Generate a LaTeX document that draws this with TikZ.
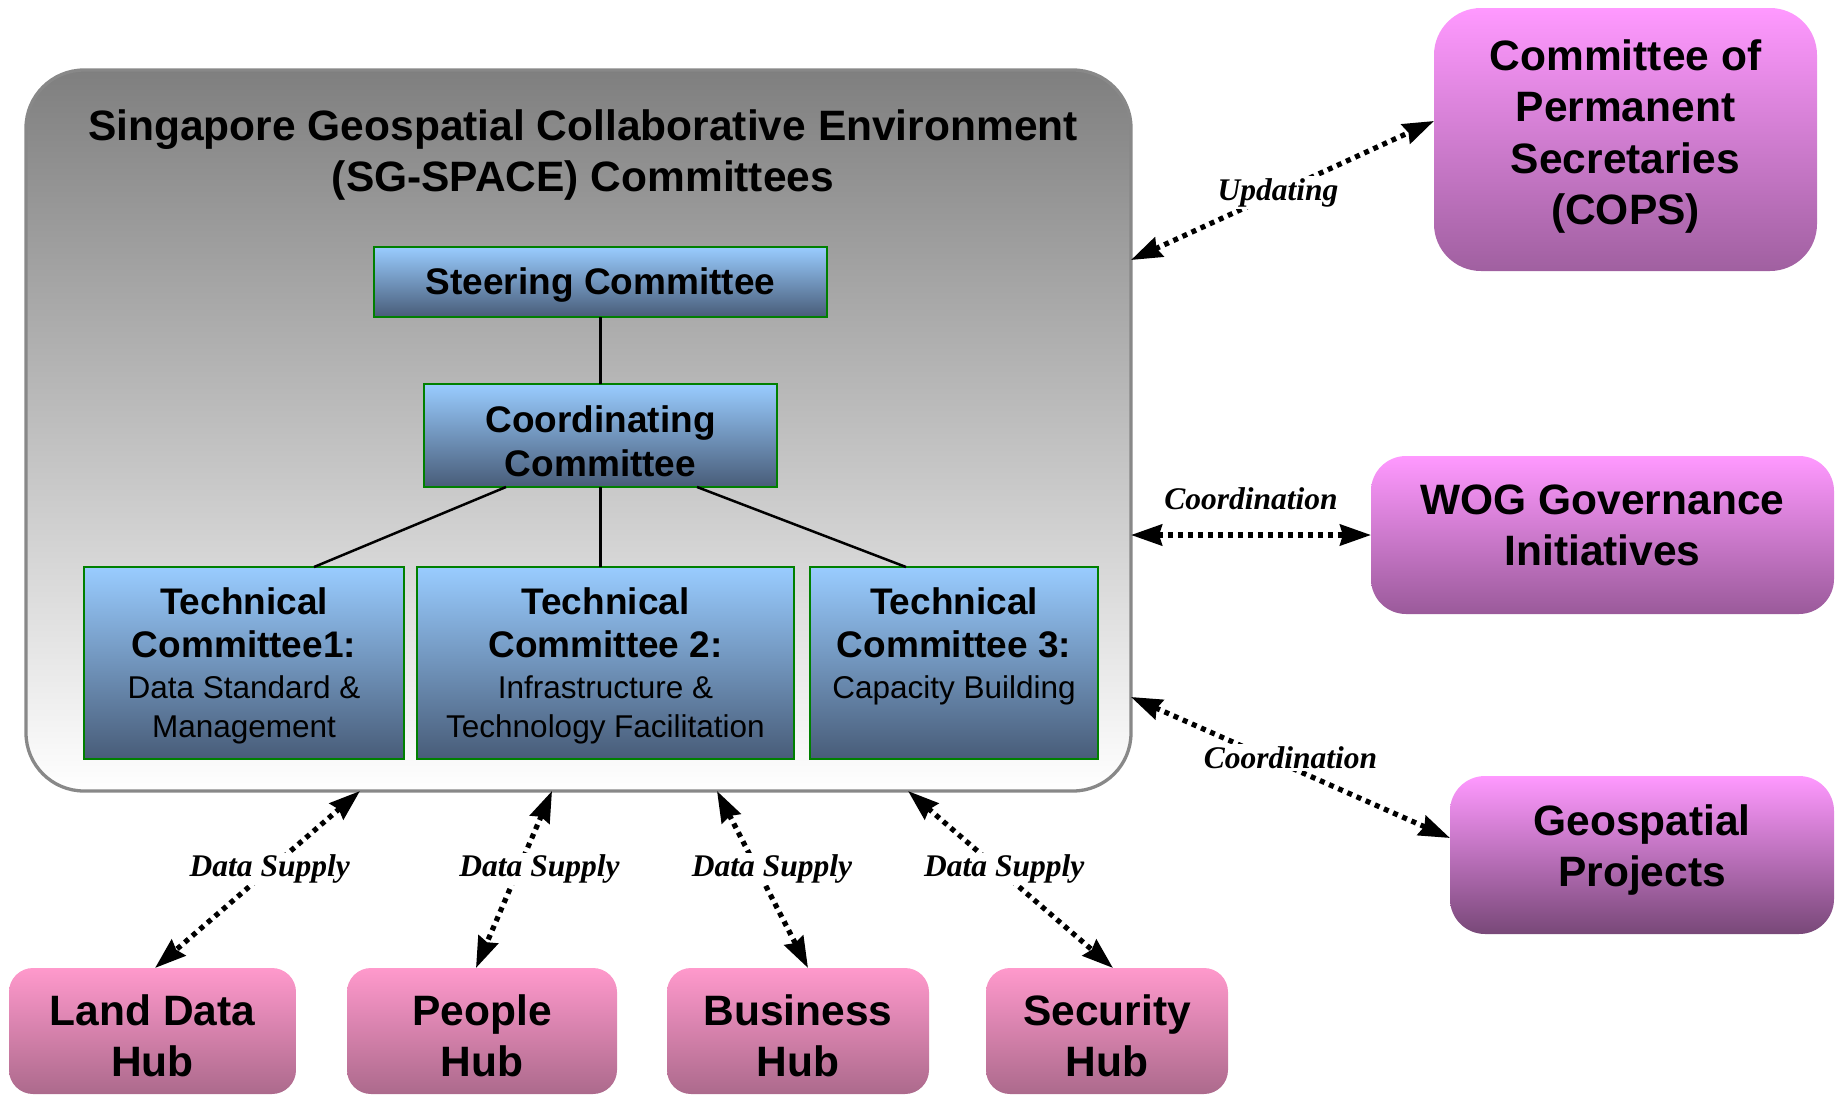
\documentclass[tikz,border=0pt]{standalone}
\usepackage{fontspec}
\setmainfont{Liberation Sans}
\newfontfamily\lblfont{Liberation Serif}
\usetikzlibrary{arrows.meta}
\definecolor{bluetop}{HTML}{99CCFF}
\definecolor{bluebot}{HTML}{485C78}
\definecolor{boxgreen}{HTML}{008000}
\definecolor{magtop}{HTML}{FF99FF}
\definecolor{copsbot}{HTML}{A060A0}
\definecolor{wogbot}{HTML}{9A5A9A}
\definecolor{geobot}{HTML}{784878}
\definecolor{hubtop}{HTML}{FF99CC}
\definecolor{hubbot}{HTML}{AC6A8C}
\definecolor{framegray}{HTML}{888888}
\definecolor{frametop}{HTML}{7F7F7F}
\definecolor{framemid}{HTML}{D0D0D0}
\newcommand\fntTitle{\fontsize{42.5}{51}\selectfont\bfseries}
\newcommand\fntHead{\fontsize{37}{43.5}\selectfont\bfseries}
\newcommand\fntSub{\fontsize{31.5}{40}\selectfont\mdseries}
\newcommand\fntBig{\fontsize{42.5}{51.5}\selectfont\bfseries}
\newcommand\fntLbl{\lblfont\fontsize{31.5}{36}\selectfont\bfseries\itshape}
\begin{document}
\begin{tikzpicture}[x=1pt,y=-1pt,
  frame/.style={draw=framegray, line width=3.3pt, rounded corners=58pt,
    top color=frametop, middle color=framemid, bottom color=white,
    inner sep=0pt, outer sep=0pt},
  bluebox/.style={draw=boxgreen, line width=2pt, top color=bluetop, bottom color=bluebot,
    inner xsep=0pt, inner ysep=0pt, outer sep=0pt, anchor=north, align=center, font=\fntHead},
  magbox/.style={top color=magtop, inner xsep=0pt, inner ysep=0pt, outer sep=0pt,
    anchor=north, align=center, font=\fntBig, rounded corners=#1},
  hubbox/.style={top color=hubtop, bottom color=hubbot, inner xsep=0pt, inner ysep=0pt,
    outer sep=0pt, anchor=north, align=center, font=\fntBig, rounded corners=24pt,
    text height=108.5pt, text depth=17.5pt},
  tline/.style={line width=2.5pt, black},
  darrow/.style={line width=5.2pt, dash pattern=on 5pt off 5pt,
    {Stealth[length=31pt,width=21pt,inset=3pt]}-{Stealth[length=31pt,width=21pt,inset=3pt]}},
  lbl/.style={font=\fntLbl, inner sep=2pt}
]
\useasboundingbox (0,0) rectangle (1837,1095);

% container
\node[frame, minimum width=1105pt, minimum height=721pt] (sgspace) at (578.5,430.5) {};
\node[font=\fntTitle, align=center, anchor=base] (title) at (583,191)
  {Singapore Geospatial Collaborative Environment\\(SG-SPACE) Committees};

% inner committees
\node[bluebox, minimum width=453pt, text height=47.3pt, text depth=22.7pt]
  (steer) at (600.5,247) {Steering Committee};
\node[bluebox, minimum width=353pt, text height=92.2pt, text depth=10.8pt]
  (coord) at (600.5,384) {Coordinating\\Committee};
\node[bluebox, minimum width=320pt, text height=170.5pt, text depth=21.5pt]
  (tc1) at (244,567) {Technical\\Committee1:\\[-3pt]\fntSub Data Standard \&\\[-4pt]\fntSub Management};
\node[bluebox, minimum width=377pt, text height=170.5pt, text depth=21.5pt]
  (tc2) at (605.5,567) {Technical\\Committee 2:\\[-3pt]\fntSub Infrastructure \&\\[-4pt]\fntSub Technology Facilitation};
\node[bluebox, minimum width=288pt, text height=131pt, text depth=61pt]
  (tc3) at (954,567) {Technical\\Committee 3:\\[-3pt]\fntSub Capacity Building};

\draw[tline] (steer.south) -- (coord.north);
\draw[tline] (coord.south -| 506,0) -- (tc1.north -| 314,0);
\draw[tline] (coord.south) -- (coord.south |- tc2.north);
\draw[tline] (coord.south -| 697,0) -- (tc3.north -| 906,0);

% outer bodies
\node[magbox=47pt, bottom color=copsbot, minimum width=383pt, text height=216.8pt, text depth=46.2pt]
  (cops) at (1625.5,8) {Committee of\\Permanent\\Secretaries\\(COPS)};
\node[magbox=35pt, bottom color=wogbot, minimum width=463pt, text height=109.8pt, text depth=48.2pt]
  (wog) at (1602.5,456) {WOG Governance\\Initiatives};
\node[magbox=35pt, bottom color=geobot, minimum width=384pt, text height=110.8pt, text depth=47.2pt]
  (geo) at (1642,776) {Geospatial\\Projects};

% hubs
\node[hubbox, minimum width=287pt] (land) at (152.5,968) {Land Data\\Hub};
\node[hubbox, minimum width=270pt] (people) at (482,968) {People\\Hub};
\node[hubbox, minimum width=262pt] (business) at (798,968) {Business\\Hub};
\node[hubbox, minimum width=242pt] (security) at (1107,968) {Security\\Hub};

% connectors
\draw[darrow] (sgspace.east |- 0,260) -- node[lbl, pos=0.485, fill=white] {Updating} (cops.west |- 0,121);
\draw[darrow] (sgspace.east |- wog.west) -- node[lbl, midway, above=21pt] {Coordination} (wog.west);
\draw[darrow] (sgspace.east |- 0,697) -- node[lbl, pos=0.5, fill=white, yshift=10pt] {Coordination} (geo.west |- 0,838);

\draw[darrow] (sgspace.south -| 360,0) -- node[lbl, pos=0.44, fill=white] {Data Supply} (land.north -| 155,0);
\draw[darrow] (sgspace.south -| 552,0) -- node[lbl, pos=0.44, fill=white, xshift=21pt] {Data Supply} (people.north -| 476,0);
\draw[darrow] (sgspace.south -| 717,0) -- node[lbl, pos=0.44, fill=white, xshift=15pt] {Data Supply} (business.north -| 808,0);
\draw[darrow] (sgspace.south -| 908,0) -- node[lbl, pos=0.44, fill=white, xshift=6pt] {Data Supply} (security.north -| 1113,0);
\end{tikzpicture}
\end{document}
